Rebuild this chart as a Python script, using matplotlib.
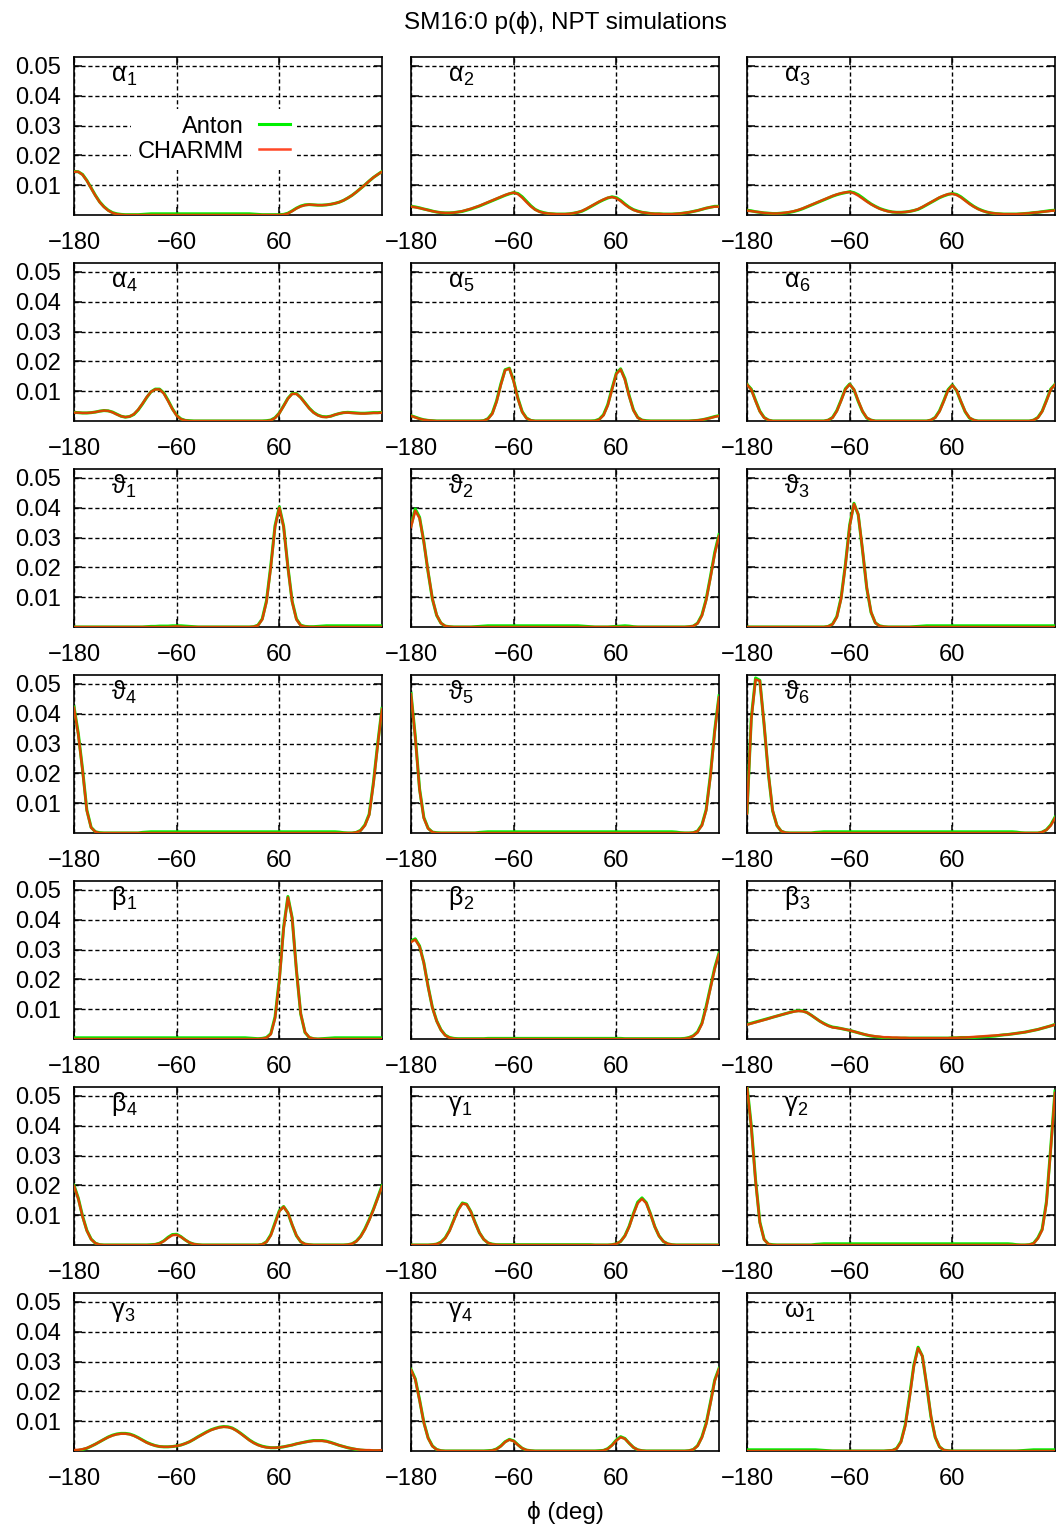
import numpy as np
import matplotlib
matplotlib.use("Agg")
import matplotlib.pyplot as plt

plt.rcParams['font.family'] = ['Liberation Sans', 'DejaVu Sans']

# Dihedral angle grid (deg); every series below is p(phi) in units of 1e-3
PHI = np.arange(-180, 181, 5)

# ---------------- alpha dihedrals ----------------
CHARMM_ALPHA1 = [
    14.5, 14.5, 13.5, 11.5, 9.0, 6.5,
    4.3, 2.7, 1.5, 0.7, 0.3, 0.1,
    0, 0, 0, 0, 0, 0,
    0, 0, 0, 0, 0, 0,
    0, 0, 0, 0, 0, 0,
    0, 0, 0, 0, 0, 0,
    0, 0, 0, 0, 0, 0,
    0, 0, 0, 0, 0, 0,
    0, 0.1, 0.5, 1.3, 2.2, 2.9,
    3.3, 3.5, 3.4, 3.3, 3.3, 3.4,
    3.6, 3.9, 4.3, 4.9, 5.7, 6.6,
    7.7, 8.9, 10.1, 11.4, 12.6, 13.6,
    14.5]
ANTON_ALPHA1 = [
    14.6, 14.5, 13.6, 11.6, 9.1, 6.6,
    4.4, 2.8, 1.6, 0.8, 0.4, 0.2,
    0.1, 0.1, 0.1, 0.1, 0.2, 0.3,
    0.4, 0.4, 0.4, 0.4, 0.4, 0.4,
    0.4, 0.4, 0.4, 0.4, 0.4, 0.4,
    0.4, 0.4, 0.4, 0.4, 0.4, 0.4,
    0.4, 0.4, 0.4, 0.4, 0.4, 0.4,
    0.3, 0.2, 0.1, 0.1, 0.1, 0.1,
    0.1, 0.2, 0.6, 1.4, 2.3, 3.0,
    3.4, 3.5, 3.4, 3.3, 3.3, 3.4,
    3.6, 3.9, 4.3, 4.9, 5.7, 6.6,
    7.7, 8.9, 10.1, 11.4, 12.6, 13.6,
    14.6]

CHARMM_ALPHA2 = [
    2.8, 2.6, 2.3, 2.0, 1.6, 1.3,
    1.0, 0.8, 0.7, 0.7, 0.8, 1.0,
    1.3, 1.7, 2.1, 2.6, 3.1, 3.7,
    4.3, 4.9, 5.5, 6.1, 6.7, 7.2,
    7.5, 7.0, 5.8, 4.3, 2.9, 1.8,
    1.1, 0.7, 0.5, 0.4, 0.3, 0.3,
    0.3, 0.4, 0.6, 0.9, 1.4, 2.1,
    2.9, 3.7, 4.5, 5.2, 5.8, 6.0,
    5.6, 4.7, 3.5, 2.5, 1.7, 1.2,
    0.9, 0.7, 0.5, 0.4, 0.4, 0.3,
    0.3, 0.3, 0.4, 0.5, 0.7, 0.9,
    1.2, 1.5, 1.9, 2.3, 2.6, 2.8,
    2.8]
ANTON_ALPHA2 = [
    2.9, 2.7, 2.4, 2.0, 1.7, 1.3,
    1.0, 0.8, 0.7, 0.7, 0.8, 1.0,
    1.2, 1.6, 2.0, 2.5, 3.0, 3.6,
    4.2, 4.8, 5.4, 6.0, 6.6, 7.1,
    7.5, 7.2, 6.1, 4.6, 3.1, 1.9,
    1.2, 0.8, 0.5, 0.4, 0.3, 0.3,
    0.3, 0.4, 0.6, 0.9, 1.3, 2.0,
    2.8, 3.6, 4.4, 5.1, 5.7, 6.1,
    5.8, 4.9, 3.7, 2.6, 1.8, 1.3,
    0.9, 0.7, 0.5, 0.4, 0.4, 0.3,
    0.3, 0.3, 0.4, 0.5, 0.7, 0.9,
    1.2, 1.5, 1.9, 2.3, 2.6, 2.9,
    2.9]

CHARMM_ALPHA3 = [
    1.5, 1.3, 1.1, 0.9, 0.7, 0.6,
    0.5, 0.5, 0.6, 0.8, 1.0, 1.3,
    1.7, 2.2, 2.8, 3.4, 4.0, 4.6,
    5.2, 5.8, 6.4, 6.9, 7.3, 7.6,
    7.7, 7.3, 6.5, 5.5, 4.5, 3.6,
    2.8, 2.1, 1.6, 1.2, 1.0, 0.9,
    0.9, 1.0, 1.2, 1.5, 2.0, 2.7,
    3.5, 4.3, 5.1, 5.9, 6.5, 7.0,
    7.1, 6.7, 5.9, 4.8, 3.7, 2.8,
    2.0, 1.4, 1.0, 0.7, 0.5, 0.4,
    0.3, 0.3, 0.3, 0.3, 0.4, 0.5,
    0.6, 0.8, 0.9, 1.1, 1.2, 1.4,
    1.5]
ANTON_ALPHA3 = [
    1.6, 1.4, 1.1, 0.9, 0.7, 0.6,
    0.5, 0.5, 0.6, 0.7, 0.9, 1.2,
    1.6, 2.1, 2.7, 3.3, 3.9, 4.5,
    5.1, 5.7, 6.3, 6.8, 7.2, 7.5,
    7.8, 7.5, 6.8, 5.8, 4.7, 3.7,
    2.9, 2.2, 1.7, 1.3, 1.0, 0.9,
    0.9, 1.0, 1.2, 1.5, 1.9, 2.6,
    3.4, 4.2, 5.0, 5.8, 6.4, 6.9,
    7.2, 6.9, 6.1, 5.0, 3.9, 2.9,
    2.1, 1.5, 1.0, 0.7, 0.5, 0.4,
    0.3, 0.3, 0.3, 0.3, 0.4, 0.5,
    0.6, 0.8, 0.9, 1.1, 1.3, 1.5,
    1.6]

CHARMM_ALPHA4 = [
    2.8, 2.8, 2.7, 2.7, 2.8, 3.0,
    3.3, 3.5, 3.4, 2.9, 2.2, 1.6,
    1.3, 1.5, 2.3, 3.8, 5.8, 8.0,
    9.8, 10.6, 10.6, 9.2, 6.7, 4.0,
    1.8, 0.6, 0.2, 0, 0, 0,
    0, 0, 0, 0, 0, 0,
    0, 0, 0, 0, 0, 0,
    0, 0, 0, 0, 0.2, 1.0,
    2.6, 5.0, 7.5, 9.1, 9.1, 7.8,
    6.0, 4.2, 2.8, 1.9, 1.4, 1.3,
    1.6, 2.1, 2.5, 2.8, 2.8, 2.7,
    2.6, 2.5, 2.5, 2.6, 2.7, 2.7,
    2.8]
ANTON_ALPHA4 = [
    2.9, 2.8, 2.7, 2.7, 2.8, 3.0,
    3.3, 3.5, 3.4, 3.0, 2.3, 1.6,
    1.3, 1.5, 2.2, 3.7, 5.7, 7.9,
    9.8, 10.7, 10.7, 9.4, 6.9, 4.1,
    1.9, 0.7, 0.2, 0.1, 0, 0,
    0, 0, 0, 0, 0, 0,
    0, 0, 0, 0, 0, 0,
    0, 0, 0, 0.1, 0.3, 1.1,
    2.7, 5.1, 7.6, 9.2, 9.2, 7.9,
    6.1, 4.3, 2.9, 2.0, 1.5, 1.4,
    1.6, 2.1, 2.5, 2.8, 2.9, 2.8,
    2.7, 2.6, 2.6, 2.7, 2.8, 2.8,
    2.9]

CHARMM_ALPHA5 = [
    1.7, 1.2, 0.7, 0.4, 0.2, 0.1,
    0, 0, 0, 0, 0, 0,
    0, 0, 0, 0, 0, 0.1,
    0.7, 2.4, 6.4, 12.1, 17.0, 17.6,
    13.3, 7.4, 3.0, 0.9, 0.2, 0,
    0, 0, 0, 0, 0, 0,
    0, 0, 0, 0, 0, 0,
    0, 0, 0.5, 1.9, 5.2, 10.6,
    15.8, 17.3, 13.9, 8.3, 3.6, 1.1,
    0.3, 0, 0, 0, 0, 0,
    0, 0, 0, 0, 0, 0,
    0.1, 0.2, 0.4, 0.7, 1.0, 1.4,
    1.7]
ANTON_ALPHA5 = [
    1.8, 1.3, 0.8, 0.4, 0.2, 0.1,
    0, 0, 0, 0, 0, 0,
    0, 0, 0, 0, 0, 0.1,
    0.8, 2.6, 6.7, 12.4, 17.2, 17.7,
    13.5, 7.6, 3.1, 1.0, 0.2, 0,
    0, 0, 0, 0, 0, 0,
    0, 0, 0, 0, 0, 0,
    0, 0.1, 0.6, 2.1, 5.5, 10.9,
    16.0, 17.5, 14.2, 8.5, 3.7, 1.2,
    0.3, 0.1, 0, 0, 0, 0,
    0, 0, 0, 0, 0, 0,
    0.1, 0.2, 0.4, 0.7, 1.1, 1.5,
    1.8]

CHARMM_ALPHA6 = [
    12.2, 10.5, 6.7, 3.2, 1.1, 0.3,
    0, 0, 0, 0, 0, 0,
    0, 0, 0, 0, 0, 0,
    0, 0.3, 1.1, 3.3, 6.8, 10.6,
    12.3, 10.6, 6.8, 3.3, 1.1, 0.3,
    0, 0, 0, 0, 0, 0,
    0, 0, 0, 0, 0, 0,
    0, 0.3, 1.1, 3.2, 6.6, 10.3,
    12.0, 10.3, 6.6, 3.2, 1.1, 0.3,
    0, 0, 0, 0, 0, 0,
    0, 0, 0, 0, 0, 0,
    0, 0.3, 1.1, 3.2, 6.7, 10.5,
    12.2]
ANTON_ALPHA6 = [
    12.3, 10.7, 6.9, 3.3, 1.2, 0.3,
    0, 0, 0, 0, 0, 0,
    0, 0, 0, 0, 0, 0,
    0, 0.3, 1.2, 3.5, 7.0, 10.8,
    12.4, 10.5, 6.6, 3.2, 1.0, 0.3,
    0, 0, 0, 0, 0, 0,
    0, 0, 0, 0, 0, 0,
    0, 0.3, 1.2, 3.4, 6.8, 10.5,
    12.1, 10.2, 6.5, 3.1, 1.0, 0.3,
    0, 0, 0, 0, 0, 0,
    0, 0, 0, 0, 0, 0,
    0, 0.3, 1.2, 3.3, 6.9, 10.7,
    12.3]

# ---------------- theta dihedrals ----------------
CHARMM_THETA1 = [
    0, 0, 0, 0, 0, 0,
    0, 0, 0, 0, 0, 0,
    0, 0, 0, 0, 0, 0,
    0, 0, 0, 0, 0, 0.1,
    0.2, 0.1, 0, 0, 0, 0,
    0, 0, 0, 0, 0, 0,
    0, 0, 0, 0, 0, 0,
    0.1, 0.5, 2.5, 8.4, 20.0, 33.6,
    40.0, 33.6, 20.0, 8.4, 2.5, 0.5,
    0.1, 0, 0, 0, 0, 0,
    0, 0, 0, 0, 0, 0,
    0, 0, 0, 0, 0, 0,
    0]
ANTON_THETA1 = [
    0, 0, 0, 0, 0, 0,
    0, 0, 0, 0, 0, 0,
    0, 0, 0, 0, 0, 0.1,
    0.2, 0.2, 0.3, 0.3, 0.3, 0.4,
    0.4, 0.4, 0.3, 0.2, 0.1, 0,
    0, 0, 0, 0, 0, 0,
    0, 0, 0, 0, 0, 0,
    0.1, 0.6, 2.7, 8.8, 20.5, 34.0,
    40.3, 33.8, 20.2, 8.6, 2.7, 0.6,
    0.2, 0.1, 0.1, 0.2, 0.3, 0.4,
    0.4, 0.4, 0.4, 0.4, 0.4, 0.4,
    0.4, 0.4, 0.4, 0.4, 0.4, 0.4,
    0.4]

CHARMM_THETA2 = [
    33.5, 39.0, 36.5, 28.5, 18.5, 9.5,
    4.0, 1.3, 0.3, 0.1, 0, 0,
    0, 0, 0, 0, 0, 0,
    0, 0, 0, 0, 0, 0,
    0, 0, 0, 0, 0, 0,
    0, 0, 0, 0, 0, 0,
    0, 0, 0, 0, 0, 0,
    0, 0, 0, 0, 0, 0,
    0, 0, 0, 0, 0, 0,
    0, 0, 0, 0, 0, 0,
    0, 0, 0, 0, 0, 0.1,
    0.3, 1.2, 3.8, 9.0, 16.5, 24.5,
    30.5]
ANTON_THETA2 = [
    34.0, 39.6, 36.8, 28.6, 18.4, 9.4,
    3.9, 1.3, 0.3, 0.1, 0, 0,
    0, 0, 0, 0.1, 0.2, 0.3,
    0.4, 0.4, 0.4, 0.4, 0.4, 0.4,
    0.4, 0.4, 0.4, 0.4, 0.4, 0.4,
    0.4, 0.4, 0.4, 0.4, 0.4, 0.4,
    0.4, 0.4, 0.4, 0.4, 0.3, 0.2,
    0.1, 0, 0, 0, 0, 0.1,
    0.2, 0.3, 0.4, 0.3, 0.1, 0,
    0, 0, 0, 0, 0, 0,
    0, 0, 0, 0, 0, 0.1,
    0.3, 1.3, 4.0, 9.3, 16.9, 25.0,
    31.0]

CHARMM_THETA3 = [
    0, 0, 0, 0, 0, 0,
    0, 0, 0, 0, 0, 0,
    0, 0, 0, 0, 0, 0,
    0, 0.2, 0.9, 3.3, 9.5, 20.5,
    33.8, 41.3, 37.8, 26.0, 13.2, 5.0,
    1.4, 0.3, 0.1, 0, 0, 0,
    0, 0, 0, 0, 0, 0,
    0, 0, 0, 0, 0, 0,
    0, 0, 0, 0, 0, 0,
    0, 0, 0, 0, 0, 0,
    0, 0, 0, 0, 0, 0,
    0, 0, 0, 0, 0, 0,
    0]
ANTON_THETA3 = [
    0, 0, 0, 0, 0, 0,
    0, 0, 0, 0, 0, 0,
    0, 0, 0, 0, 0, 0,
    0, 0.2, 1.0, 3.5, 9.8, 20.9,
    34.2, 41.5, 37.7, 25.8, 13.0, 4.9,
    1.4, 0.4, 0.1, 0, 0, 0,
    0, 0, 0, 0.1, 0.2, 0.3,
    0.4, 0.4, 0.4, 0.4, 0.4, 0.4,
    0.4, 0.4, 0.4, 0.4, 0.4, 0.4,
    0.4, 0.4, 0.4, 0.4, 0.4, 0.4,
    0.4, 0.4, 0.4, 0.4, 0.4, 0.4,
    0.4, 0.4, 0.4, 0.4, 0.4, 0.4,
    0.4]

CHARMM_THETA4 = [
    42.0, 33.0, 21.0, 7.5, 1.8, 0.4,
    0, 0, 0, 0, 0, 0,
    0, 0, 0, 0, 0, 0,
    0, 0, 0, 0, 0, 0,
    0, 0, 0, 0, 0, 0,
    0, 0, 0, 0, 0, 0,
    0, 0, 0, 0, 0, 0,
    0, 0, 0, 0, 0, 0,
    0, 0, 0, 0, 0, 0,
    0, 0, 0, 0, 0, 0,
    0, 0, 0, 0, 0, 0,
    0.2, 0.8, 2.5, 6.0, 16.5, 29.5,
    41.5]
ANTON_THETA4 = [
    42.3, 33.4, 21.3, 7.7, 1.9, 0.4,
    0.1, 0, 0, 0, 0, 0,
    0, 0, 0, 0, 0.2, 0.3,
    0.4, 0.4, 0.4, 0.4, 0.4, 0.4,
    0.4, 0.4, 0.4, 0.4, 0.4, 0.4,
    0.4, 0.4, 0.4, 0.4, 0.4, 0.4,
    0.4, 0.4, 0.4, 0.4, 0.4, 0.4,
    0.4, 0.4, 0.4, 0.4, 0.4, 0.4,
    0.4, 0.4, 0.4, 0.4, 0.4, 0.4,
    0.4, 0.4, 0.4, 0.4, 0.4, 0.4,
    0.4, 0.4, 0.3, 0.1, 0, 0,
    0.2, 0.9, 2.7, 6.3, 17.0, 30.0,
    41.8]

CHARMM_THETA5 = [
    46.5, 32.0, 14.5, 5.0, 1.5, 0.3,
    0, 0, 0, 0, 0, 0,
    0, 0, 0, 0, 0, 0,
    0, 0, 0, 0, 0, 0,
    0, 0, 0, 0, 0, 0,
    0, 0, 0, 0, 0, 0,
    0, 0, 0, 0, 0, 0,
    0, 0, 0, 0, 0, 0,
    0, 0, 0, 0, 0, 0,
    0, 0, 0, 0, 0, 0,
    0, 0, 0, 0, 0, 0,
    0.1, 0.6, 2.5, 7.5, 19.0, 34.0,
    45.5]
ANTON_THETA5 = [
    46.8, 32.4, 14.8, 5.2, 1.6, 0.3,
    0.1, 0, 0, 0, 0, 0,
    0, 0, 0, 0, 0.2, 0.3,
    0.4, 0.4, 0.4, 0.4, 0.4, 0.4,
    0.4, 0.4, 0.4, 0.4, 0.4, 0.4,
    0.4, 0.4, 0.4, 0.4, 0.4, 0.4,
    0.4, 0.4, 0.4, 0.4, 0.4, 0.4,
    0.4, 0.4, 0.4, 0.4, 0.4, 0.4,
    0.4, 0.4, 0.4, 0.4, 0.4, 0.4,
    0.4, 0.4, 0.4, 0.4, 0.4, 0.4,
    0.4, 0.4, 0.3, 0.1, 0, 0,
    0.1, 0.7, 2.7, 7.8, 19.5, 34.5,
    46.0]

CHARMM_THETA6 = [
    6.5, 38.0, 51.5, 51.0, 36.5, 20.0,
    7.5, 2.5, 0.6, 0.1, 0, 0,
    0, 0, 0, 0, 0, 0,
    0, 0, 0, 0, 0, 0,
    0, 0, 0, 0, 0, 0,
    0, 0, 0, 0, 0, 0,
    0, 0, 0, 0, 0, 0,
    0, 0, 0, 0, 0, 0,
    0, 0, 0, 0, 0, 0,
    0, 0, 0, 0, 0, 0,
    0, 0, 0, 0, 0, 0,
    0, 0, 0, 0.3, 1.0, 2.5,
    5.0]
ANTON_THETA6 = [
    6.8, 38.5, 52.0, 51.2, 36.3, 19.8,
    7.4, 2.5, 0.6, 0.1, 0, 0,
    0, 0, 0, 0, 0.2, 0.3,
    0.4, 0.4, 0.4, 0.4, 0.4, 0.4,
    0.4, 0.4, 0.4, 0.4, 0.4, 0.4,
    0.4, 0.4, 0.4, 0.4, 0.4, 0.4,
    0.4, 0.4, 0.4, 0.4, 0.4, 0.4,
    0.4, 0.4, 0.4, 0.4, 0.4, 0.4,
    0.4, 0.4, 0.4, 0.4, 0.4, 0.4,
    0.4, 0.4, 0.4, 0.4, 0.4, 0.4,
    0.4, 0.4, 0.4, 0.3, 0.1, 0,
    0, 0, 0, 0.3, 1.1, 2.7,
    5.3]

# ---------------- beta dihedrals ----------------
CHARMM_BETA1 = [
    0, 0, 0, 0, 0, 0,
    0, 0, 0, 0, 0, 0,
    0, 0, 0, 0, 0, 0,
    0, 0, 0, 0, 0, 0,
    0, 0, 0, 0, 0, 0,
    0, 0, 0, 0, 0, 0,
    0, 0, 0, 0, 0, 0,
    0, 0, 0.1, 0.4, 1.6, 7.0,
    19.5, 37.0, 47.5, 40.5, 23.0, 8.5,
    2.3, 0.5, 0.1, 0, 0, 0,
    0, 0, 0, 0, 0, 0,
    0, 0, 0, 0, 0, 0,
    0]
ANTON_BETA1 = [
    0.4, 0.4, 0.4, 0.4, 0.4, 0.4,
    0.4, 0.4, 0.4, 0.4, 0.4, 0.4,
    0.4, 0.4, 0.4, 0.4, 0.4, 0.4,
    0.4, 0.4, 0.4, 0.4, 0.4, 0.4,
    0.4, 0.4, 0.4, 0.4, 0.4, 0.4,
    0.4, 0.4, 0.4, 0.4, 0.4, 0.4,
    0.4, 0.4, 0.4, 0.4, 0.4, 0.3,
    0.2, 0.1, 0.2, 0.5, 1.8, 7.4,
    20.0, 37.4, 47.8, 40.6, 23.0, 8.4,
    2.2, 0.5, 0.1, 0, 0.1, 0.2,
    0.3, 0.4, 0.4, 0.4, 0.4, 0.4,
    0.4, 0.4, 0.4, 0.4, 0.4, 0.4,
    0.4]

CHARMM_BETA2 = [
    32.5, 33.3, 31.0, 25.5, 17.5, 10.5,
    6.0, 3.0, 1.2, 0.4, 0.1, 0,
    0, 0, 0, 0, 0, 0,
    0, 0, 0, 0, 0, 0,
    0, 0, 0, 0, 0, 0,
    0, 0, 0, 0, 0, 0,
    0, 0, 0, 0, 0, 0,
    0, 0, 0, 0, 0, 0,
    0, 0, 0, 0, 0, 0,
    0, 0, 0, 0, 0, 0,
    0, 0, 0, 0, 0.1, 0.4,
    1.0, 2.2, 5.0, 10.5, 17.0, 23.5,
    28.5]
ANTON_BETA2 = [
    32.8, 33.6, 31.2, 25.6, 17.6, 10.6,
    6.1, 3.1, 1.3, 0.5, 0.2, 0.1,
    0.1, 0.1, 0.1, 0.1, 0.1, 0.1,
    0.2, 0.2, 0.2, 0.2, 0.2, 0.2,
    0.2, 0.2, 0.2, 0.2, 0.2, 0.2,
    0.2, 0.2, 0.2, 0.2, 0.2, 0.2,
    0.2, 0.2, 0.2, 0.2, 0.2, 0.2,
    0.2, 0.2, 0.2, 0.2, 0.2, 0.2,
    0.2, 0.2, 0.1, 0.1, 0.1, 0.1,
    0.1, 0.1, 0.1, 0.1, 0.1, 0.1,
    0.1, 0.1, 0.1, 0.1, 0.2, 0.5,
    1.1, 2.4, 5.3, 10.9, 17.4, 23.9,
    28.8]

CHARMM_BETA3 = [
    4.8, 5.2, 5.6, 6.0, 6.4, 6.8,
    7.3, 7.7, 8.1, 8.5, 8.9, 9.2,
    9.4, 9.3, 8.9, 8.0, 7.0, 6.0,
    5.1, 4.4, 3.9, 3.7, 3.5, 3.2,
    2.9, 2.5, 2.1, 1.7, 1.4, 1.1,
    0.9, 0.8, 0.6, 0.6, 0.5, 0.5,
    0.4, 0.4, 0.3, 0.3, 0.3, 0.3,
    0.3, 0.3, 0.3, 0.3, 0.3, 0.3,
    0.4, 0.4, 0.5, 0.5, 0.6, 0.7,
    0.8, 0.9, 1.0, 1.1, 1.2, 1.3,
    1.4, 1.5, 1.7, 1.9, 2.1, 2.3,
    2.6, 2.9, 3.2, 3.6, 4.0, 4.4,
    4.8]
ANTON_BETA3 = [
    4.9, 5.3, 5.7, 6.1, 6.5, 6.9,
    7.3, 7.7, 8.1, 8.5, 8.9, 9.3,
    9.5, 9.4, 8.9, 8.0, 7.0, 6.0,
    5.2, 4.5, 4.0, 3.8, 3.5, 3.2,
    2.9, 2.5, 2.1, 1.7, 1.3, 1.0,
    0.8, 0.6, 0.4, 0.4, 0.3, 0.3,
    0.3, 0.3, 0.3, 0.3, 0.3, 0.3,
    0.3, 0.3, 0.3, 0.3, 0.3, 0.3,
    0.4, 0.4, 0.5, 0.5, 0.5, 0.5,
    0.6, 0.7, 0.8, 0.9, 1.0, 1.2,
    1.4, 1.5, 1.7, 1.9, 2.1, 2.3,
    2.6, 2.9, 3.2, 3.6, 4.0, 4.4,
    4.9]

CHARMM_BETA4 = [
    19.8, 15.5, 9.5, 4.8, 1.9, 0.6,
    0.1, 0, 0, 0, 0, 0,
    0, 0, 0, 0, 0, 0,
    0, 0.2, 0.5, 1.3, 2.4, 3.3,
    3.4, 2.7, 1.7, 0.8, 0.3, 0.1,
    0, 0, 0, 0, 0, 0,
    0, 0, 0, 0, 0, 0,
    0, 0, 0.2, 1.0, 3.2, 7.2,
    11.3, 12.8, 10.8, 6.8, 3.2, 1.1,
    0.3, 0.1, 0, 0, 0, 0,
    0, 0, 0, 0, 0.1, 0.4,
    1.2, 2.8, 5.2, 8.3, 11.8, 15.7,
    19.6]
ANTON_BETA4 = [
    20.0, 15.7, 9.7, 4.9, 2.0, 0.6,
    0.1, 0, 0, 0, 0, 0,
    0, 0, 0, 0, 0, 0,
    0.1, 0.2, 0.6, 1.4, 2.6, 3.5,
    3.6, 2.8, 1.7, 0.8, 0.3, 0.1,
    0, 0, 0, 0, 0, 0,
    0, 0, 0, 0, 0, 0,
    0, 0, 0.2, 1.1, 3.4, 7.5,
    11.5, 12.9, 10.8, 6.7, 3.1, 1.1,
    0.3, 0.1, 0, 0, 0, 0,
    0, 0, 0, 0, 0.1, 0.4,
    1.3, 2.9, 5.4, 8.5, 12.0, 15.9,
    19.9]

# ---------------- gamma / omega dihedrals ----------------
CHARMM_GAMMA1 = [
    0, 0, 0, 0, 0, 0.1,
    0.3, 0.9, 2.3, 4.7, 8.2, 11.7,
    13.9, 13.6, 11.1, 7.4, 4.1, 1.9,
    0.7, 0.2, 0.1, 0, 0, 0,
    0, 0, 0, 0, 0, 0,
    0, 0, 0, 0, 0, 0,
    0, 0, 0, 0, 0, 0,
    0, 0, 0, 0, 0, 0.1,
    0.4, 1.2, 3.0, 6.1, 10.3, 14.0,
    15.5, 14.0, 10.3, 6.1, 3.0, 1.2,
    0.4, 0.1, 0, 0, 0, 0,
    0, 0, 0, 0, 0, 0,
    0]
ANTON_GAMMA1 = [
    0, 0, 0, 0, 0, 0.1,
    0.3, 1.0, 2.4, 4.9, 8.4, 11.9,
    14.1, 13.7, 11.2, 7.5, 4.1, 1.9,
    0.7, 0.3, 0.1, 0.1, 0.1, 0.1,
    0.1, 0.1, 0.1, 0.1, 0.1, 0.1,
    0.1, 0.1, 0.1, 0.1, 0.1, 0.1,
    0.1, 0.1, 0.1, 0.1, 0.1, 0.1,
    0.1, 0, 0, 0, 0, 0.1,
    0.4, 1.2, 3.1, 6.3, 10.6, 14.4,
    15.8, 14.2, 10.4, 6.1, 3.0, 1.2,
    0.4, 0.1, 0, 0, 0, 0,
    0, 0, 0, 0, 0, 0,
    0]

CHARMM_GAMMA2 = [
    53.0, 39.5, 21.5, 7.5, 1.8, 0.3,
    0, 0, 0, 0, 0, 0,
    0, 0, 0, 0, 0, 0,
    0, 0, 0, 0, 0, 0,
    0, 0, 0, 0, 0, 0,
    0, 0, 0, 0, 0, 0,
    0, 0, 0, 0, 0, 0,
    0, 0, 0, 0, 0, 0,
    0, 0, 0, 0, 0, 0,
    0, 0, 0, 0, 0, 0,
    0, 0, 0, 0, 0, 0,
    0.1, 0.5, 2.2, 5.0, 14.0, 32.0,
    51.0]
ANTON_GAMMA2 = [
    53.5, 40.0, 21.8, 7.7, 1.9, 0.3,
    0.1, 0, 0, 0, 0, 0,
    0, 0, 0, 0, 0.2, 0.3,
    0.4, 0.4, 0.4, 0.4, 0.4, 0.4,
    0.4, 0.4, 0.4, 0.4, 0.4, 0.4,
    0.4, 0.4, 0.4, 0.4, 0.4, 0.4,
    0.4, 0.4, 0.4, 0.4, 0.4, 0.4,
    0.4, 0.4, 0.4, 0.4, 0.4, 0.4,
    0.4, 0.4, 0.4, 0.4, 0.4, 0.4,
    0.4, 0.4, 0.4, 0.4, 0.4, 0.4,
    0.4, 0.4, 0.3, 0.1, 0, 0,
    0.1, 0.6, 2.4, 5.3, 14.5, 32.6,
    51.6]

CHARMM_GAMMA3 = [
    0.3, 0.4, 0.6, 1.0, 1.6, 2.3,
    3.1, 3.9, 4.6, 5.2, 5.6, 5.8,
    5.8, 5.6, 5.1, 4.4, 3.6, 2.8,
    2.2, 1.8, 1.5, 1.4, 1.4, 1.5,
    1.7, 2.0, 2.5, 3.1, 3.9, 4.7,
    5.5, 6.3, 7.0, 7.5, 7.9, 8.1,
    8.0, 7.6, 6.8, 5.8, 4.7, 3.6,
    2.7, 2.0, 1.5, 1.2, 1.1, 1.1,
    1.2, 1.4, 1.7, 2.0, 2.4, 2.7,
    3.0, 3.2, 3.4, 3.4, 3.4, 3.2,
    2.8, 2.4, 1.9, 1.5, 1.1, 0.8,
    0.6, 0.4, 0.3, 0.3, 0.2, 0.2,
    0.3]
ANTON_GAMMA3 = [
    0.1, 0.2, 0.5, 0.9, 1.6, 2.3,
    3.1, 3.9, 4.7, 5.3, 5.7, 5.9,
    5.9, 5.7, 5.2, 4.5, 3.7, 2.9,
    2.3, 1.8, 1.5, 1.4, 1.4, 1.5,
    1.7, 2.0, 2.5, 3.1, 3.9, 4.8,
    5.6, 6.4, 7.1, 7.6, 8.0, 8.2,
    8.1, 7.7, 6.9, 5.9, 4.8, 3.7,
    2.8, 2.1, 1.6, 1.3, 1.1, 1.1,
    1.2, 1.4, 1.7, 2.0, 2.4, 2.7,
    3.0, 3.3, 3.5, 3.5, 3.5, 3.3,
    2.9, 2.4, 1.9, 1.5, 1.1, 0.8,
    0.5, 0.3, 0.2, 0.1, 0.1, 0.1,
    0.1]

CHARMM_GAMMA4 = [
    27.2, 24.0, 17.0, 9.5, 4.3, 1.6,
    0.5, 0.1, 0, 0, 0, 0,
    0, 0, 0, 0, 0, 0,
    0, 0.2, 0.6, 1.6, 3.0, 3.8,
    3.3, 2.0, 0.9, 0.3, 0.1, 0,
    0, 0, 0, 0, 0, 0,
    0, 0, 0, 0, 0, 0,
    0, 0, 0, 0.2, 0.7, 1.9,
    3.5, 4.6, 4.1, 2.6, 1.2, 0.4,
    0.1, 0, 0, 0, 0, 0,
    0, 0, 0, 0, 0, 0.1,
    0.5, 1.7, 4.5, 9.0, 16.0, 23.5,
    27.5]
ANTON_GAMMA4 = [
    27.4, 24.2, 17.2, 9.6, 4.4, 1.7,
    0.5, 0.1, 0, 0, 0, 0,
    0, 0, 0, 0, 0, 0,
    0.1, 0.2, 0.7, 1.7, 3.1, 3.9,
    3.4, 2.1, 0.9, 0.3, 0.1, 0,
    0, 0, 0, 0, 0, 0,
    0, 0, 0, 0, 0, 0,
    0, 0, 0.1, 0.2, 0.8, 2.0,
    3.7, 4.8, 4.2, 2.6, 1.2, 0.4,
    0.1, 0, 0, 0, 0, 0,
    0, 0, 0, 0, 0, 0.1,
    0.5, 1.8, 4.7, 9.3, 16.3, 23.8,
    27.7]

CHARMM_OMEGA1 = [
    0, 0, 0, 0, 0, 0,
    0, 0, 0, 0, 0, 0,
    0, 0, 0, 0, 0, 0,
    0, 0, 0, 0, 0, 0,
    0, 0, 0, 0, 0, 0,
    0, 0, 0, 0.1, 0.2, 0.8,
    3.0, 8.4, 17.8, 28.4, 34.5, 31.8,
    22.2, 11.7, 4.7, 1.4, 0.3, 0.1,
    0, 0, 0, 0, 0, 0,
    0, 0, 0, 0, 0, 0,
    0, 0, 0, 0, 0, 0,
    0, 0, 0, 0, 0, 0,
    0]
ANTON_OMEGA1 = [
    0.4, 0.4, 0.4, 0.4, 0.4, 0.4,
    0.4, 0.4, 0.4, 0.4, 0.4, 0.4,
    0.4, 0.4, 0.4, 0.4, 0.4, 0.3,
    0.2, 0.1, 0, 0, 0, 0,
    0, 0, 0, 0, 0, 0,
    0, 0, 0, 0.1, 0.2, 0.9,
    3.2, 8.8, 18.3, 28.8, 34.8, 31.8,
    22.0, 11.5, 4.6, 1.4, 0.3, 0.1,
    0, 0, 0, 0, 0, 0,
    0, 0, 0, 0, 0, 0,
    0, 0, 0, 0, 0.1, 0.2,
    0.3, 0.4, 0.4, 0.4, 0.4, 0.4,
    0.4]

# Panel layout, row by row: (symbol, index, Anton, CHARMM)
PANELS = [
    ("α", "1", ANTON_ALPHA1, CHARMM_ALPHA1),
    ("α", "2", ANTON_ALPHA2, CHARMM_ALPHA2),
    ("α", "3", ANTON_ALPHA3, CHARMM_ALPHA3),
    ("α", "4", ANTON_ALPHA4, CHARMM_ALPHA4),
    ("α", "5", ANTON_ALPHA5, CHARMM_ALPHA5),
    ("α", "6", ANTON_ALPHA6, CHARMM_ALPHA6),
    ("ϑ", "1", ANTON_THETA1, CHARMM_THETA1),
    ("ϑ", "2", ANTON_THETA2, CHARMM_THETA2),
    ("ϑ", "3", ANTON_THETA3, CHARMM_THETA3),
    ("ϑ", "4", ANTON_THETA4, CHARMM_THETA4),
    ("ϑ", "5", ANTON_THETA5, CHARMM_THETA5),
    ("ϑ", "6", ANTON_THETA6, CHARMM_THETA6),
    ("β", "1", ANTON_BETA1, CHARMM_BETA1),
    ("β", "2", ANTON_BETA2, CHARMM_BETA2),
    ("β", "3", ANTON_BETA3, CHARMM_BETA3),
    ("β", "4", ANTON_BETA4, CHARMM_BETA4),
    ("γ", "1", ANTON_GAMMA1, CHARMM_GAMMA1),
    ("γ", "2", ANTON_GAMMA2, CHARMM_GAMMA2),
    ("γ", "3", ANTON_GAMMA3, CHARMM_GAMMA3),
    ("γ", "4", ANTON_GAMMA4, CHARMM_GAMMA4),
    ("ω", "1", ANTON_OMEGA1, CHARMM_OMEGA1),
]

X_TICKS = [-180, -60, 60]
X_TICKLABELS = ["\u2212180", "\u221260", "60"]
Y_TICKS = [0.01, 0.02, 0.03, 0.04, 0.05]
Y_TICKLABELS = ["0.01", "0.02", "0.03", "0.04", "0.05"]

TITLE = "SM16:0 p(ϕ), NPT simulations"
XLABEL = "ϕ (deg)"

GREEN = "#00f000"
RED = "#ff2800"
FS = 17

# ---------------- figure ----------------
W, H = 1058, 1525
fig = plt.figure(figsize=(W / 100, H / 100), dpi=100)
fig.patch.set_facecolor("white")

COL_X = [74, 411, 747]
ROW_Y = [57 + 206 * r for r in range(7)]
AX_W, AX_H = 308, 158

for k, (sym, idx, anton, charmm) in enumerate(PANELS):
    r, c = divmod(k, 3)
    x0, y0 = COL_X[c], ROW_Y[r]
    ax = fig.add_axes([x0 / W, 1 - (y0 + AX_H) / H, AX_W / W, AX_H / H])

    ax.plot(PHI, np.asarray(anton) * 1e-3, color=GREEN, lw=2.2,
            label="Anton", solid_joinstyle="round", zorder=3)
    ax.plot(PHI, np.asarray(charmm) * 1e-3, color=RED, lw=1.8, alpha=0.85,
            label="CHARMM", solid_joinstyle="round", zorder=4)

    ax.set_xlim(-180, 180)
    ax.set_ylim(0, 0.053)
    ax.set_xticks(X_TICKS)
    ax.set_xticklabels(X_TICKLABELS)
    ax.set_yticks(Y_TICKS)
    ax.set_yticklabels(Y_TICKLABELS if c == 0 else [])
    ax.grid(True, color="black", linestyle=(0, (3, 2)), linewidth=1.0)
    ax.tick_params(direction="in", length=6, width=1.1, top=True, right=True,
                   labelsize=FS, colors="black")
    ax.tick_params(axis="x", pad=12)
    ax.tick_params(axis="y", pad=9)
    for s in ax.spines.values():
        s.set_linewidth(1.2)

    t = ax.text(0.122, 0.845, sym, transform=ax.transAxes, fontsize=FS + 1,
                ha="left", va="baseline", zorder=6)
    ax.annotate(idx, xy=(1, 0), xycoords=t, xytext=(0.3, -1.8),
                textcoords="offset points", fontsize=13,
                ha="left", va="bottom", zorder=6)

    if k == 0:
        leg = ax.legend(loc="center right", bbox_to_anchor=(0.724, 0.48),
                        markerfirst=False, frameon=True, fancybox=False,
                        edgecolor="none", facecolor="white", framealpha=1,
                        fontsize=FS, handlelength=1.3, handletextpad=0.65,
                        labelspacing=0.12, borderpad=0.3, borderaxespad=0)
        leg.set_zorder(5)

fig.text(565 / W, 1 - 22 / H, TITLE, ha="center", va="center", fontsize=FS + 0.5)
fig.text(565 / W, 1 - 1512 / H, XLABEL, ha="center", va="center", fontsize=FS + 0.5)

fig.savefig("out.png", dpi=100, facecolor="white")
